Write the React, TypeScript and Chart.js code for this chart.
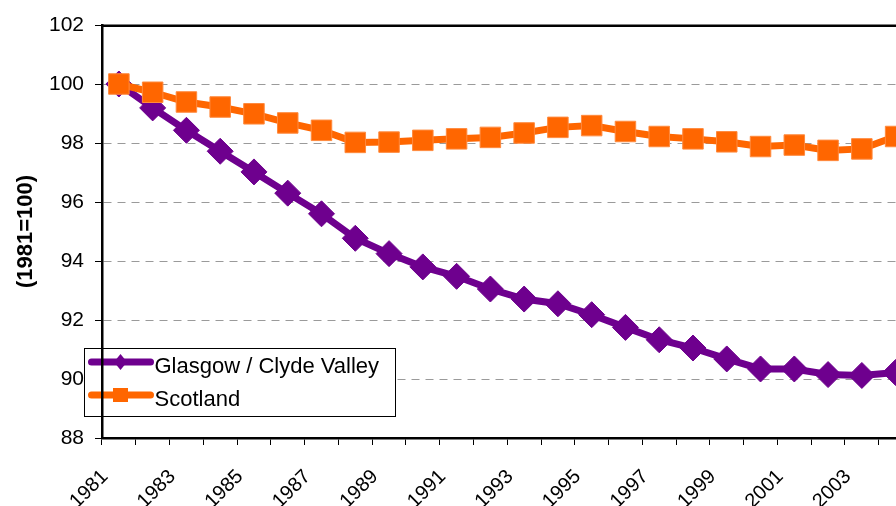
import React, { useEffect, useRef } from 'react';
import { Chart, registerables } from 'chart.js';

Chart.register(...registerables);

const years = [
  '1981', '1982', '1983', '1984', '1985', '1986', '1987', '1988', '1989', '1990', '1991', '1992',
  '1993', '1994', '1995', '1996', '1997', '1998', '1999', '2000', '2001', '2002', '2003', '2004',
];
const glasgow = [
  100, 99.19, 98.43, 97.72, 97.02, 96.3, 95.6, 94.77, 94.25, 93.8, 93.48, 93.05,
  92.71, 92.55, 92.18, 91.75, 91.33, 91.05, 90.68, 90.34, 90.34, 90.15, 90.12, 90.22,
];
const scotland = [
  100, 99.72, 99.39, 99.22, 98.99, 98.68, 98.43, 98.02, 98.03, 98.09, 98.14, 98.19,
  98.34, 98.53, 98.59, 98.39, 98.22, 98.14, 98.04, 97.88, 97.93, 97.75, 97.8, 98.22,
];
const yMin = 88;
const yMax = 102;
const yStep = 2;
const yTitle = '(1981=100)';
const seriesNames = ['Glasgow / Clyde Valley', 'Scotland'];

const PURPLE = '#6E008E';
const ORANGE = '#FF6600';
const FONT = 'Liberation Sans, Arial, sans-serif';
const AXIS_W = 2.5;

const framePlugin = {
  id: 'frame',
  afterDatasetsDraw(chart: any) {
    const { ctx, chartArea } = chart;
    ctx.save();
    // top & right border of plot area
    ctx.strokeStyle = '#000';
    ctx.lineWidth = AXIS_W;
    ctx.beginPath();
    ctx.moveTo(chartArea.left, chartArea.top + 0.8);
    ctx.lineTo(chartArea.right, chartArea.top + 0.8);
    ctx.lineTo(chartArea.right, chartArea.bottom);
    ctx.stroke();

    // legend box
    const bx = chartArea.left - 17.5;
    const by = chartArea.top + 323.5;
    const bw = 311;
    const bh = 68;
    ctx.fillStyle = '#fff';
    ctx.fillRect(bx, by, bw, bh);
    ctx.strokeStyle = '#000';
    ctx.lineWidth = 1;
    ctx.strokeRect(bx, by, bw, bh);

    const items = [
      { label: chart.data.datasets[0].label, color: PURPLE, shape: 'diamond', dy: 13.5 },
      { label: chart.data.datasets[1].label, color: ORANGE, shape: 'square', dy: 46.5 },
    ];
    items.forEach((it) => {
      const cy = by + it.dy;
      ctx.strokeStyle = it.color;
      ctx.lineWidth = 7;
      ctx.lineCap = 'round';
      ctx.beginPath();
      ctx.moveTo(bx + 7, cy);
      ctx.lineTo(bx + 66, cy);
      ctx.stroke();
      ctx.fillStyle = it.color;
      const cx = bx + 36;
      if (it.shape === 'diamond') {
        ctx.beginPath();
        ctx.moveTo(cx, cy - 8);
        ctx.lineTo(cx + 6.5, cy);
        ctx.lineTo(cx, cy + 8);
        ctx.lineTo(cx - 6.5, cy);
        ctx.closePath();
        ctx.fill();
      } else {
        ctx.fillRect(cx - 7.5, cy - 7, 15, 14);
      }
      ctx.fillStyle = '#000';
      ctx.font = `22px ${FONT}`;
      ctx.textBaseline = 'alphabetic';
      ctx.textAlign = 'left';
      ctx.fillText(it.label, bx + 70, cy + 10.5);
    });
    ctx.restore();
  },
};

export default function App() {
  const canvasRef = useRef<HTMLCanvasElement | null>(null);

  useEffect(() => {
    const canvas = canvasRef.current;
    if (!canvas) return;
    const chart = new Chart(canvas, {
      type: 'line',
      data: {
        labels: years,
        datasets: [
          {
            label: seriesNames[0],
            data: glasgow,
            borderColor: PURPLE,
            backgroundColor: PURPLE,
            borderWidth: 7,
            pointStyle: 'rectRot',
            pointRadius: 13,
            pointBorderWidth: 1,
            pointBorderColor: PURPLE,
            pointBackgroundColor: PURPLE,
            tension: 0,
            order: 1,
          },
          {
            label: seriesNames[1],
            data: scotland,
            borderColor: ORANGE,
            backgroundColor: ORANGE,
            borderWidth: 7,
            pointStyle: 'rect',
            pointRadius: 14.5,
            pointBorderWidth: 1,
            pointBorderColor: '#FF8A3D',
            pointBackgroundColor: ORANGE,
            tension: 0,
            order: 0,
          },
        ],
      },
      options: {
        responsive: false,
        animation: false,
        layout: { padding: { top: 17, right: 8, bottom: 0, left: 0 } },
        plugins: {
          legend: { display: false },
          tooltip: { enabled: false },
        },
        scales: {
          x: {
            type: 'category',
            offset: true,
            grid: {
              display: true,
              drawOnChartArea: false,
              drawTicks: true,
              offset: true,
              tickLength: 7,
              tickColor: '#000',
              tickWidth: 1,
            },
            border: { display: true, color: '#000', width: AXIS_W, z: 1 },
            ticks: {
              autoSkip: false,
              minRotation: 45,
              maxRotation: 45,
              padding: 20,
              labelOffset: -14,
              color: '#000',
              font: { family: FONT, size: 20 },
              callback: (_v: any, i: number) => (i % 2 === 0 ? years[i] : ''),
            },
            afterFit: (s: any) => {
              s.height = 68;
              s.paddingLeft = 0;
              s.paddingRight = 0;
            },
          },
          y: {
            min: yMin,
            max: yMax,
            ticks: {
              stepSize: yStep,
              color: '#000',
              padding: 11,
              font: { family: FONT, size: 21 },
            },
            grid: {
              color: '#9a9a9a',
              lineWidth: 1,
              tickColor: '#000',
              tickLength: 7,
              tickWidth: 1,
              tickBorderDash: [],
            },
            border: { display: true, color: '#000', width: AXIS_W, z: 1, dash: [8, 6] },
            title: {
              display: true,
              text: yTitle,
              color: '#000',
              font: { family: FONT, size: 22, weight: 'bold' },
              padding: { top: 5, bottom: 0 },
            },
            afterFit: (s: any) => {
              s.width = 94;
              s.paddingTop = 0;
              s.paddingBottom = 0;
            },
          },
        },
      } as any,
      plugins: [framePlugin],
    });
    return () => chart.destroy();
  }, []);

  return (
    <div
      style={{
        position: 'fixed',
        left: 8,
        top: 8,
        width: 888,
        height: 498,
        overflow: 'hidden',
        background: '#fff',
      }}
    >
      <canvas ref={canvasRef} width={920} height={498} style={{ display: 'block' }} />
    </div>
  );
}
